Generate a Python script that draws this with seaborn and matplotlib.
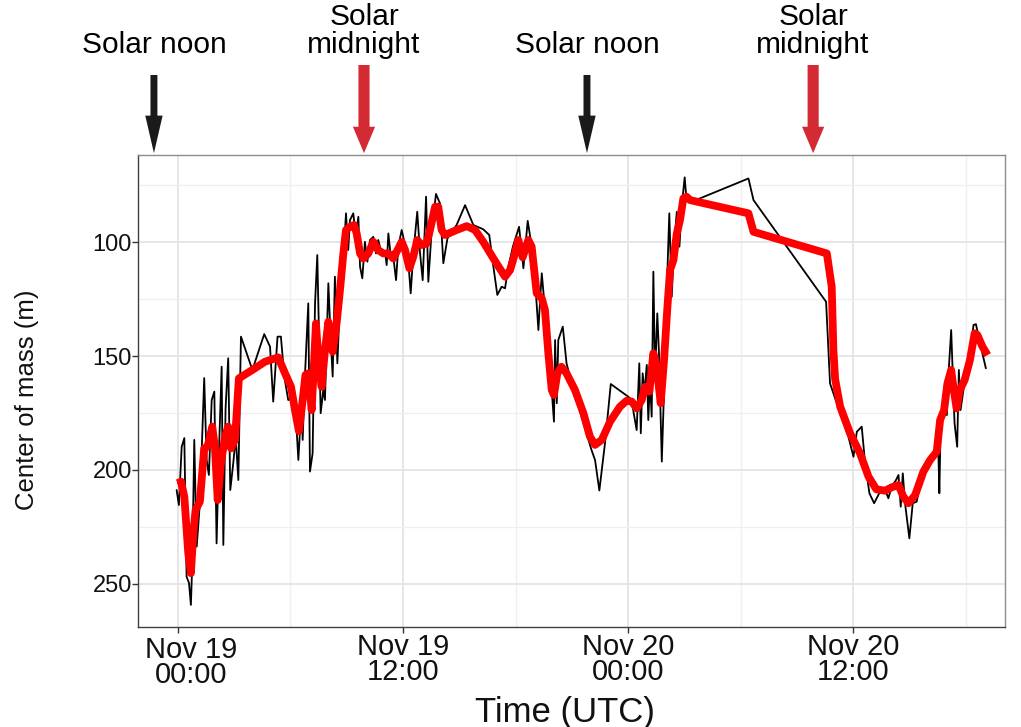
import matplotlib
matplotlib.use("Agg")
import matplotlib.pyplot as plt
import matplotlib.dates as mdates
from matplotlib.patches import ArrowStyle
import matplotlib.transforms as mtransforms
import numpy as np
import pandas as pd
import seaborn as sns

# Hours since Nov 19 00:00 UTC and center-of-mass depth (m)
start = pd.Timestamp("2019-11-19 00:00")

raw_hours = [
    -0.07, 0.05, 0.2, 0.34, 0.46, 0.59, 0.69, 0.77, 0.87, 1.0, 1.17, 1.4, 1.53,
    1.65, 1.8, 1.94, 2.06, 2.19, 2.33, 2.42, 2.54, 2.68, 2.79, 2.95, 3.08, 3.22,
    3.36, 3.97, 4.6, 4.91, 5.08, 5.31, 5.49, 5.67, 5.88, 6.15, 6.33, 6.42, 6.6,
    6.65, 6.77, 6.95, 7.04, 7.18, 7.31, 7.43, 7.61, 7.75, 7.84, 8.02, 8.14, 8.25,
    8.37, 8.5, 8.64, 8.82, 8.96, 9.08, 9.17, 9.35, 9.48, 9.62, 9.71, 9.83, 9.97,
    10.1, 10.24, 10.42, 10.56, 10.68, 10.86, 11.04, 11.13, 11.22, 11.35, 11.45,
    11.63, 11.75, 11.93, 12.11, 12.28, 12.41, 12.55, 12.76, 12.91, 13.05, 13.23,
    13.35, 13.53, 13.76, 13.97, 14.15, 14.37, 14.86, 15.31, 15.75, 16.28, 16.6,
    16.82, 17.03, 17.26, 17.44, 17.62, 17.86, 18.19, 18.42, 18.65, 18.81, 19.04,
    19.22, 19.31, 19.4, 19.54, 19.75, 19.93, 20.05, 20.11, 20.2, 20.28, 20.52,
    20.72, 20.99, 22.05, 22.24, 22.47, 22.77, 23.08, 24.02, 24.2, 24.3, 24.46,
    24.6, 24.68, 24.78, 24.87, 25.0, 25.08, 25.17, 25.26, 25.35, 25.44, 25.56,
    25.65, 25.8, 25.97, 26.1, 26.2, 26.33, 26.45, 26.6, 26.74, 26.86, 27.02,
    27.12, 27.4, 30.42, 30.69, 34.56, 34.77, 35.31, 35.75, 36.02, 36.2, 36.46,
    36.64, 36.87, 37.12, 37.44, 37.71, 37.88, 38.06, 38.29, 38.42, 38.54, 38.65,
    38.77, 39.0, 39.18, 39.39, 39.65, 40.0, 40.37, 40.55, 40.6, 40.68, 40.79,
    41.0, 41.1, 41.23, 41.33, 41.41, 41.55, 41.64, 41.73, 41.91, 42.18, 42.42,
    42.55, 42.77, 43.08,
]
raw_depth = [
    208.8, 215.4, 189.8, 186.0, 246.8, 249.6, 259.2, 239.5, 186.8, 233.6, 214.5,
    159.7, 195.6, 202.2, 169.3, 165.6, 232.2, 191.2, 154.7, 232.9, 172.9, 151.0,
    208.8, 197.0, 185.4, 204.4, 141.5, 156.1, 140.4, 145.9, 170.0, 141.5, 141.5,
    159.0, 169.3, 168.6, 182.5, 195.6, 169.3, 186.8, 159.0, 126.9, 200.7, 192.7,
    126.9, 105.7, 175.1, 164.9, 169.3, 118.1, 141.5, 159.0, 115.2, 153.2, 125.4,
    107.9, 87.4, 103.5, 90.4, 87.4, 97.7, 88.9, 110.8, 115.9, 99.9, 108.6, 99.1,
    97.7, 105.0, 99.1, 105.0, 104.2, 110.1, 96.2, 106.4, 104.2, 116.7, 102.0,
    94.7, 101.3, 107.9, 122.5, 105.0, 86.7, 105.0, 116.7, 80.1, 117.4, 94.7,
    78.9, 83.0, 109.3, 98.4, 92.5, 83.8, 92.5, 94.4, 96.9, 110.8, 123.2, 119.6,
    120.3, 110.8, 102.0, 93.3, 111.5, 90.7, 99.1, 116.7, 138.6, 125.4, 113.7,
    126.9, 150.3, 164.9, 178.8, 143.0, 170.7, 143.0, 137.1, 153.2, 162.0, 191.2,
    195.6, 209.0, 188.3, 162.3, 167.9, 169.3, 175.0, 182.5, 153.2, 183.9, 157.6,
    166.4, 153.9, 178.1, 160.5, 176.6, 113.0, 159.0, 131.3, 148.8, 196.3, 151.8,
    112.3, 87.4, 124.0, 102.0, 86.7, 102.0, 84.5, 71.6, 81.6, 82.3, 72.1, 81.6,
    126.2, 162.0, 175.1, 185.4, 194.2, 183.2, 181.0, 197.0, 210.2, 214.6, 209.5,
    208.8, 212.4, 207.3, 204.4, 202.2, 216.1, 201.5, 214.6, 230.0, 214.6, 213.9,
    202.9, 197.0, 192.7, 193.0, 210.2, 175.1, 172.2, 175.9, 156.1, 138.6, 162.0,
    179.5, 189.8, 156.1, 173.7, 163.5, 154.7, 136.4, 136.0, 144.4, 155.4,
]

smooth_hours = [
    -0.02, 0.16, 0.34, 0.55, 0.69, 0.82, 0.94, 1.17, 1.4, 1.58, 1.83, 1.97, 2.12,
    2.29, 2.51, 2.68, 2.83, 3.04, 3.25, 3.97, 4.64, 5.35, 5.71, 6.03, 6.24, 6.45,
    6.63, 6.8, 6.95, 7.13, 7.36, 7.48, 7.66, 7.84, 8.02, 8.25, 8.46, 8.64, 8.82,
    8.96, 9.17, 9.39, 9.53, 9.71, 9.88, 10.15, 10.42, 10.68, 10.95, 11.22, 11.48,
    11.75, 11.93, 12.11, 12.34, 12.55, 12.76, 12.99, 13.26, 13.44, 13.71, 13.88,
    14.06, 14.24, 14.86, 15.4, 15.84, 16.28, 16.82, 17.44, 17.71, 17.97, 18.15,
    18.38, 18.68, 18.86, 19.13, 19.4, 19.57, 19.75, 19.93, 20.05, 20.23, 20.45,
    20.72, 21.17, 21.62, 21.97, 22.24, 22.6, 23.04, 23.57, 23.93, 24.2, 24.46,
    24.73, 24.91, 25.14, 25.35, 25.53, 25.74, 25.92, 26.1, 26.24, 26.42, 26.6,
    26.77, 26.95, 27.12, 27.31, 30.42, 30.69, 34.6, 34.86, 34.95, 35.04, 35.31,
    35.84, 36.37, 36.82, 37.24, 37.71, 38.06, 38.42, 38.68, 38.95, 39.31, 39.75,
    40.11, 40.46, 40.64, 40.85, 41.03, 41.23, 41.37, 41.52, 41.69, 41.95, 42.23,
    42.48, 42.63, 42.9, 43.17,
]
smooth_depth = [
    205.8, 205.1, 211.7, 236.5, 245.3, 227.8, 217.5, 213.9, 190.5, 189.8, 181.0,
    189.8, 213.2, 197.1, 185.4, 181.0, 190.5, 186.8, 159.8, 156.1, 152.5, 150.6,
    157.6, 163.5, 173.7, 183.0, 170.8, 158.3, 157.6, 173.7, 135.7, 150.3, 163.5,
    147.4, 135.0, 148.1, 135.7, 121.1, 105.0, 94.7, 93.3, 92.5, 96.2, 105.0,
    107.2, 105.0, 99.9, 103.5, 105.0, 105.0, 107.2, 102.8, 99.9, 103.5, 111.5,
    106.4, 99.1, 101.3, 100.6, 94.7, 84.5, 84.5, 94.7, 96.9, 94.7, 93.0, 94.7,
    99.9, 107.2, 115.2, 112.3, 105.0, 99.1, 106.7, 99.1, 102.0, 122.5, 124.7,
    129.8, 148.8, 164.9, 167.1, 157.6, 154.7, 157.6, 164.9, 175.1, 185.4, 189.0,
    186.8, 178.8, 172.2, 169.6, 170.0, 173.0, 169.3, 163.5, 165.6, 148.8, 154.7,
    170.7, 151.8, 128.4, 112.3, 107.9, 96.2, 90.4, 80.8, 80.1, 81.6, 87.4, 95.5,
    105.0, 119.6, 147.4, 160.0, 172.2, 183.9, 192.7, 202.9, 208.5, 209.1, 207.6,
    206.6, 211.7, 214.6, 211.0, 200.7, 195.6, 192.0, 178.1, 173.7, 162.0, 156.1,
    164.9, 173.0, 164.9, 160.5, 151.8, 140.0, 140.8, 145.9, 149.6,
]

# Solar events marked above the panel (hours since Nov 19 00:00)
event_labels = ["Solar noon", "Solar\nmidnight", "Solar noon", "Solar\nmidnight"]
event_hours = [-1.28, 9.92, 21.81, 33.87]
event_colors = ["#1a1a1a", "#d42a33", "#1a1a1a", "#d42a33"]

major_tick_hours = [0, 12, 24, 36]
minor_tick_hours = [6, 18, 30, 42]
y_major = [100, 150, 200, 250]
y_minor = [75, 125, 175, 225]

to_time = lambda hrs: start + pd.to_timedelta(np.asarray(hrs), unit="h")
raw = pd.DataFrame({"time": to_time(raw_hours), "depth": raw_depth})
smooth = pd.DataFrame({"time": to_time(smooth_hours), "depth": smooth_depth})

sns.set_theme(style="white")
plt.rcParams["font.family"] = ["Liberation Sans", "DejaVu Sans"]

fig = plt.figure(figsize=(10.21, 7.27), dpi=100)
ax = fig.add_axes([138 / 1021, 1 - 627 / 727, (1005 - 138) / 1021, (627 - 155) / 727])
ax.set_facecolor("white")

sns.lineplot(data=raw, x="time", y="depth", ax=ax, estimator=None, sort=False,
             color="black", linewidth=1.3, zorder=3)
sns.lineplot(data=smooth, x="time", y="depth", ax=ax, estimator=None, sort=False,
             color="#ff0000", linewidth=5.6, zorder=4,
             solid_joinstyle="round", solid_capstyle="butt")

ax.set_xlim(mdates.date2num(to_time([-2.13])[0]), mdates.date2num(to_time([44.1])[0]))
ax.set_ylim(268.9, 61.8)

ax.set_xticks(mdates.date2num(to_time(major_tick_hours)))
ax.set_xticks(mdates.date2num(to_time(minor_tick_hours)), minor=True)
ax.xaxis.set_major_formatter(mdates.DateFormatter("%b %d\n%H:%M"))
ax.set_yticks(y_major)
ax.set_yticks(y_minor, minor=True)

ax.grid(which="major", color="#e4e4e4", linewidth=1.3, zorder=0)
ax.grid(which="minor", color="#efefef", linewidth=0.9, zorder=0)
ax.set_axisbelow(True)

for side, sp in ax.spines.items():
    sp.set_visible(True)
    sp.set_color("#8c8c8c")
    sp.set_linewidth(1.0)
ax.spines["left"].set_color("#404040")
ax.spines["bottom"].set_color("#404040")

ax.tick_params(axis="both", which="major", direction="out", length=4, width=1,
               color="#333333", bottom=True, left=True)
ax.tick_params(axis="both", which="minor", length=0)
ax.tick_params(axis="x", labelsize=21, pad=0, labelcolor="#111111")
ax.tick_params(axis="y", labelsize=17, pad=0.5, labelcolor="#111111")
for lbl in ax.get_xticklabels():
    lbl.set_linespacing(0.9)

# The first date label sits slightly right of its tick
first = ax.xaxis.get_major_ticks()[0].label1
first.set_transform(first.get_transform()
                    + mtransforms.ScaledTranslation(13 / 100, -3 / 100, fig.dpi_scale_trans))

ax.set_xlabel("Time (UTC)", fontsize=25, color="#111111", va="top")
ax.xaxis.set_label_coords((565 - 138) / 867, (627 - 696) / 472)
ax.set_ylabel("Center of mass (m)", fontsize=18.5, color="#111111")
ax.yaxis.set_label_coords((39 - 138) / 867, (627 - 400) / 472)

# Arrows and labels for solar noon / solar midnight
for label, hrs, col in zip(event_labels, event_hours, event_colors):
    xnum = mdates.date2num(to_time([hrs])[0])
    if "midnight" in label:
        style = ArrowStyle.Simple(head_length=19, head_width=16, tail_width=8)
        y_start = (627 - 65) / 472
    else:
        style = ArrowStyle.Simple(head_length=27, head_width=12.5, tail_width=5)
        y_start = (627 - 75) / 472
    ax.annotate("", xy=(xnum, 1.004), xytext=(xnum, y_start),
                xycoords=("data", "axes fraction"), textcoords=("data", "axes fraction"),
                arrowprops=dict(arrowstyle=style, mutation_scale=1, color=col,
                                shrinkA=0, shrinkB=0, linewidth=0),
                annotation_clip=False)
    ax.annotate(label, xy=(xnum, (627 - 53) / 472), xycoords=("data", "axes fraction"),
                ha="center", va="baseline", fontsize=21.5, linespacing=1.0,
                color="black", annotation_clip=False)

fig.savefig("out.png", dpi=100, facecolor="white")
